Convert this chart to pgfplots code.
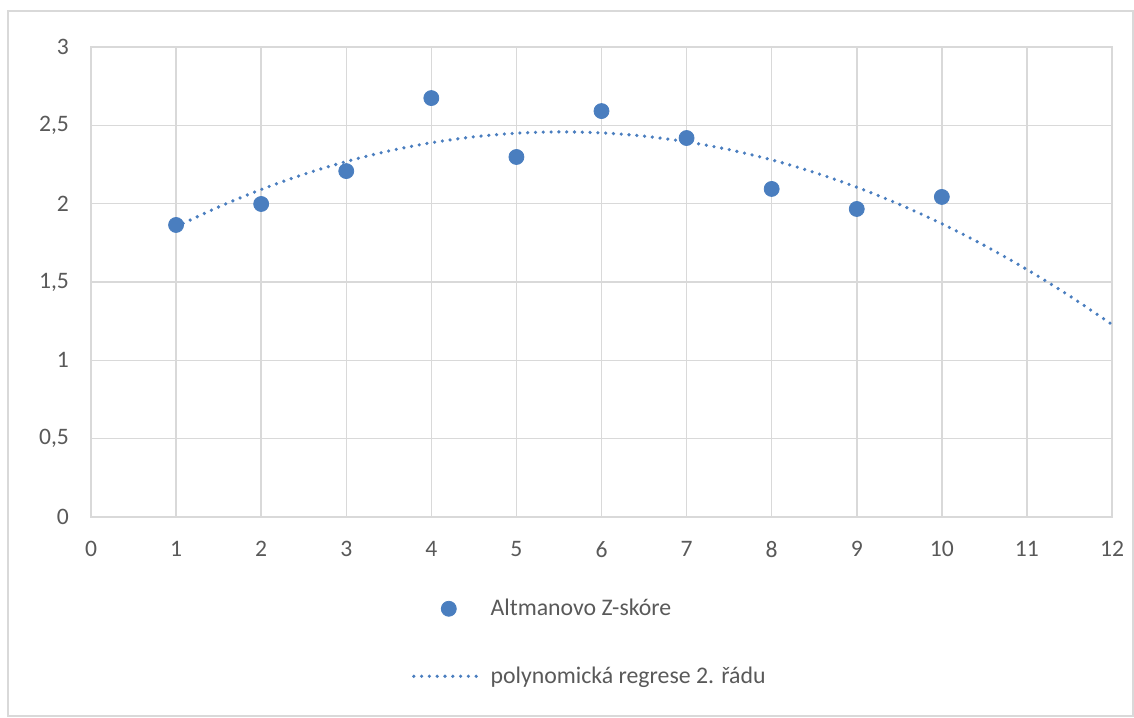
\documentclass[border=0pt]{standalone}
\usepackage{pgfplots}
\pgfplotsset{compat=1.18}
\usepackage{fontspec}
\setmainfont{Carlito}
\definecolor{txt}{HTML}{595959}
\definecolor{gridc}{HTML}{D9D9D9}
\definecolor{ser}{HTML}{4A7EBF}
\pgfplotsset{
  markleg/.style={legend image code/.code={\draw[mark repeat=2,mark phase=2,##1] plot coordinates {(0pt,0pt) (17.5pt,0pt) (35pt,0pt)};}},
  lineleg/.style={legend image code/.code={\draw[##1] (0pt,0pt) -- (35pt,0pt);}},
}
\begin{document}
\begin{tikzpicture}
\path[use as bounding box] (-45.5pt,-100pt) rectangle (521.5pt,258.5pt);
\draw[gridc, line width=0.75pt] (-41.5pt,-99.5pt) rectangle (521pt,253pt);
\begin{axis}[
  at={(0,0)}, anchor=south west,
  scale only axis, width=510.5pt, height=235pt,
  xmin=0, xmax=12, ymin=0, ymax=3,
  xtick={0,1,...,12}, ytick={0,0.5,...,3},
  grid=major, major grid style={gridc, line width=0.75pt},
  axis line style={gridc, line width=0.75pt},
  tick style={draw=none},
  tick label style={text=txt, font=\fontsize{11.8}{14}\selectfont},
  yticklabel shift=7.5pt, xticklabel shift=8.5pt,
  /pgf/number format/use comma,
  /pgf/number format/assume math mode=true,
  clip=false,
  legend style={at={(160.5pt,-41pt)}, anchor=north west, draw=none, fill=none,
    inner sep=0pt, outer sep=0pt, row sep=24pt, column sep=2.5pt,
    nodes={inner sep=0pt, text=txt, font=\fontsize{11.9}{14}\selectfont}},
  legend cell align=left,
]
\addplot[only marks, mark=*, mark size=3.75pt, color=ser, markleg]
  coordinates {(1,1.864) (2,1.998) (3,2.208) (4,2.674) (5,2.298) (6,2.591) (7,2.419) (8,2.094) (9,1.966) (10,2.043)};
\addlegendentry{Altmanovo Z-skóre}
\addplot[ser, line width=1.8pt, line cap=round, dash pattern=on 0pt off 3.9pt, smooth, lineleg]
  coordinates {(1,1.853) (1.5,1.979) (2,2.0905) (2.5,2.1872) (3,2.2691) (3.5,2.3363) (4,2.3889) (4.5,2.4267) (5,2.4498) (5.5,2.4582) (6,2.4519) (6.5,2.4309) (7,2.3951) (7.5,2.3447) (8,2.2796) (8.5,2.1997) (9,2.1051) (9.5,1.9958) (10,1.8718) (10.5,1.7332) (11,1.5797) (11.5,1.4116) (12,1.2288)};
\addlegendentry{polynomická regrese 2. řádu}
\end{axis}
\end{tikzpicture}
\end{document}
